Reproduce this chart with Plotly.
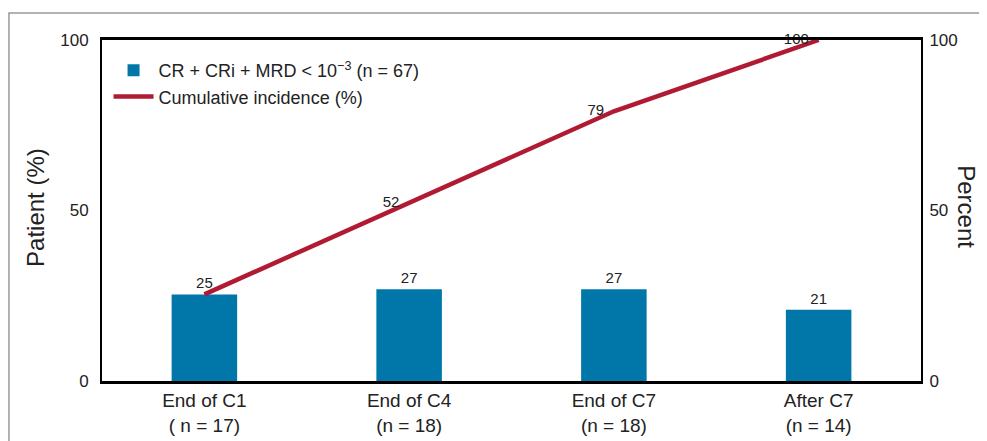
import plotly.graph_objects as go

# data
categories = ["End of C1<br>( n = 17)", "End of C4<br>(n = 18)",
              "End of C7<br>(n = 18)", "After C7<br>(n = 14)"]
patient_pct = [25.4, 26.9, 26.9, 20.9]
patient_labels = ["25", "27", "27", "21"]
cumulative_pct = [25.4, 52.2, 79.1, 100]
cumulative_labels = ["", "52", "79", "100"]

BLUE = "#0077a8"
RED = "#b01a32"
NARROW = "Liberation Sans Narrow, Arial Narrow, sans-serif"
SANS = "Liberation Sans, Arial, sans-serif"

fig = go.Figure()
fig.add_bar(
    x=categories, y=patient_pct, width=0.32, marker_color=BLUE,
    marker_line_width=0,
    text=patient_labels, textposition="outside", cliponaxis=False,
    textfont=dict(family=NARROW, size=15, color="#222"),
    name="CR + CRi + MRD < 10<sup>\u22123</sup> (n = 67)",
)
# invisible markers only give the point labels an offset from the line
fig.add_scatter(
    x=categories, y=cumulative_pct, yaxis="y2", mode="lines+markers+text",
    line=dict(color=RED, width=4.5),
    marker=dict(size=14, color="rgba(0,0,0,0)"),
    text=cumulative_labels, textposition="middle left", cliponaxis=False,
    textfont=dict(family=SANS, size=15, color="#222"),
    name="Cumulative incidence (%)",
)

# page body has an 8px margin, so the figure is sized/offset to compensate
fig.update_layout(
    width=979, height=433,
    margin=dict(l=94, r=66, t=32, b=60, autoexpand=False),
    plot_bgcolor="white", paper_bgcolor="white",
    font=dict(family=SANS, size=17, color="#222"),
    showlegend=True,
    legend=dict(x=0.008, y=0.965, xanchor="left", yanchor="top",
                bgcolor="rgba(0,0,0,0)", font=dict(size=18),
                itemwidth=40, tracegroupgap=2),
    xaxis=dict(showline=True, linecolor="black", linewidth=3, mirror=True,
               ticks="", tickfont=dict(family=NARROW, size=19),
               range=[-0.5, 3.5], automargin=False),
    yaxis=dict(range=[0, 100], tickvals=[0, 50, 100], showgrid=False,
               showline=True, linecolor="black", linewidth=2, ticks="",
               zeroline=False, ticklabelstandoff=8, automargin=False),
    yaxis2=dict(range=[0, 100], tickvals=[0, 50, 100], showgrid=False,
                overlaying="y", side="right", showline=True,
                linecolor="black", linewidth=2, ticks="", zeroline=False,
                ticklabelstandoff=3, automargin=False),
)

# axis titles
fig.add_annotation(text="Patient (%)", xref="paper", yref="paper",
                   x=-0.082, y=0.51, xanchor="center", yanchor="middle",
                   textangle=-90, showarrow=False, font=dict(size=24))
fig.add_annotation(text="Percent", xref="paper", yref="paper",
                   x=1.056, y=0.51, xanchor="center", yanchor="middle",
                   textangle=90, showarrow=False, font=dict(size=24))

# outer figure frame (left and top edges visible)
fig.add_shape(type="rect", xref="paper", yref="paper",
              x0=-0.1136, x1=1.2, y0=-0.4, y1=1.079,
              line=dict(color="#999", width=1.5), layer="below")

fig.write_html("out.html")
